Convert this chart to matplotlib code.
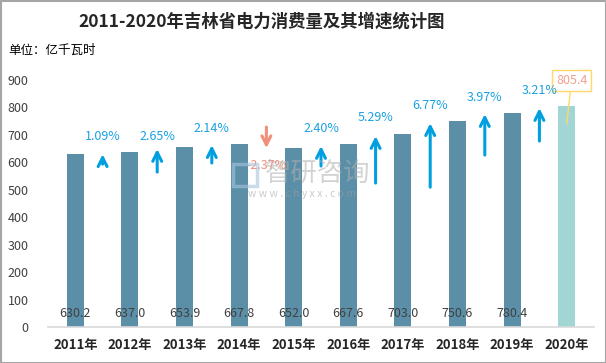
import matplotlib
matplotlib.use("Agg")
import matplotlib.pyplot as plt
from matplotlib.patches import Rectangle

plt.rcParams['font.family'] = ['Noto Sans CJK SC', 'DejaVu Sans']

years = ['2011年', '2012年', '2013年', '2014年', '2015年', '2016年', '2017年', '2018年', '2019年', '2020年']
consumption = [630.2, 637.0, 653.9, 667.8, 652.0, 667.6, 703.0, 750.6, 780.4, 805.4]
growth = ['1.09%', '2.65%', '2.14%', '-2.37%', '2.40%', '5.29%', '6.77%', '3.97%', '3.21%']
growth_vals = [1.09, 2.65, 2.14, -2.37, 2.40, 5.29, 6.77, 3.97, 3.21]
# arrow extents (value-axis units) as drawn in the original
arrow_low = [593, 564, 597, 651, 586, 524, 509, 626, 677]
arrow_high = [629, 648, 662, 728, 659, 695, 742, 775, 797]
label_y = [695, 695, 724, 589, 724, 761, 808, 837, 862]

fig = plt.figure(figsize=(6.06, 3.63), dpi=100)
ax = fig.add_axes([48/606, 1-327/363, (594-48)/606, 0.8256-(1-327/363)])

x = list(range(len(years)))
colors = ['#5B8FA8'] * 9 + ['#A2D6D4']
ax.bar(x, consumption, width=0.31, color=colors, zorder=2)

ax.set_xlim(-0.5, 9.5)
ax.set_ylim(0, 960)
ax.set_yticks(range(0, 1000, 100))
ax.set_xticks(x)
ax.set_xticklabels(years, fontsize=9.5, fontweight='bold', color='#262626')
ax.tick_params(axis='y', length=0, labelsize=9, labelcolor='#404040', pad=14)
ax.tick_params(axis='x', length=0, pad=8)
for s in ['top', 'right', 'left']:
    ax.spines[s].set_visible(False)
ax.spines['bottom'].set_color('#D9D9D9')
ax.spines['bottom'].set_linewidth(1.2)

for i in range(9):
    ax.text(i, 50, f'{consumption[i]:.1f}', ha='center', va='center', fontsize=9, color='#404040', zorder=3)

for i in range(9):
    xm = i + 0.5
    up = growth_vals[i] >= 0
    c = '#00A0E0' if up else '#F0907A'
    if up:
        xy, xyt = (xm, arrow_high[i]), (xm, arrow_low[i])
    else:
        xy, xyt = (xm, arrow_low[i]), (xm, arrow_high[i])
    ax.annotate('', xy=xy, xytext=xyt,
                arrowprops=dict(arrowstyle='->', lw=2.2, color=c, mutation_scale=16,
                                shrinkA=0, shrinkB=0), zorder=4, annotation_clip=False)
    ax.text(xm, label_y[i], growth[i], ha='center', va='center', fontsize=9,
            color='#1BA1E2' if up else '#F0907A', zorder=5)

# callout for 2020
ax.annotate('805.4', xy=(9, 740), xytext=(9.09, 898), ha='center', va='center',
            fontsize=9, color='#F4A090', annotation_clip=False,
            bbox=dict(boxstyle='square,pad=0.3', fc='white', ec='#FFD966', lw=1),
            arrowprops=dict(arrowstyle='-', color='#FFD966', lw=1, shrinkA=0, shrinkB=0))

fig.text(262/606, 1-22/363, '2011-2020年吉林省电力消费量及其增速统计图', ha='center', va='center',
         fontsize=12.5, fontweight='bold', color='#262626')
fig.text(8/606, 1-50/363, '单位：亿千瓦时', ha='left', va='center', fontsize=9, color='#000000')

# watermark
fig.text(318/606, 1-173/363, '智研咨询', ha='center', va='center', fontsize=19, color='#B0B0B0', alpha=0.55)
fig.text(302/606, 1-194/363, 'w w w . c h y x x . c o m', ha='center', va='center', fontsize=7.5, color='#A0A0A0', alpha=0.55)
fig.patches.append(Rectangle((233/606, 1-186/363), 24/606, 22/363, transform=fig.transFigure,
                             fc='none', ec='#A8C4DC', lw=2.5, alpha=0.6))

# figure border
fig.patches.append(Rectangle((0.5/606, 0.5/363), 605/606, 362/363, transform=fig.transFigure,
                             fc='none', ec='#A6A6A6', lw=1.5))

fig.savefig('out.png', dpi=100)
